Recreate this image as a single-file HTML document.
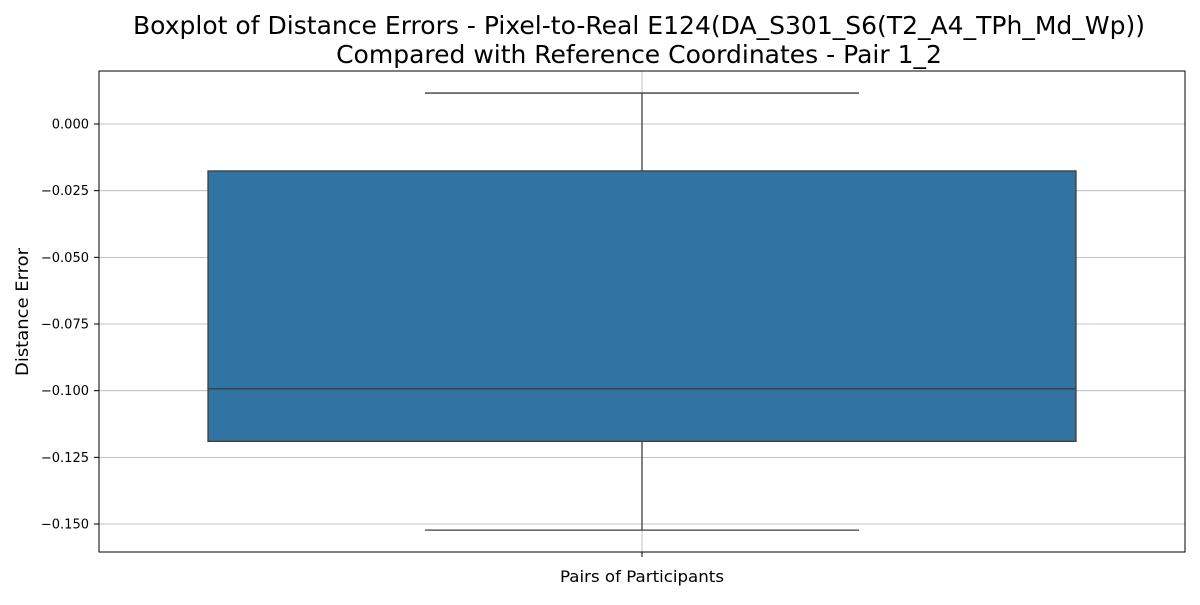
<!DOCTYPE html>
<html><head><meta charset="utf-8"><style>
body{margin:0;background:#fff;}
svg text{font-family:"DejaVu Sans","Liberation Sans",sans-serif;}
</style></head><body>
<svg id="chart" width="1200" height="600">
<rect width="1200" height="600" fill="#fff"/>
<text x="639" y="34" text-anchor="middle" font-size="25" textLength="1012" lengthAdjust="spacingAndGlyphs">Boxplot of Distance Errors - Pixel-to-Real E124(DA_S301_S6(T2_A4_TPh_Md_Wp))</text>
<text x="639" y="63" text-anchor="middle" font-size="25">Compared with Reference Coordinates - Pair 1_2</text>
<g id="grid"></g>
<g id="box"></g>
<rect x="99" y="71" width="1086" height="481" fill="none" stroke="#000" stroke-width="1"/>
<g id="yticks"></g>
<line x1="642" y1="552" x2="642" y2="557" stroke="#000"/>
<text x="642" y="582" text-anchor="middle" font-size="16" textLength="164" lengthAdjust="spacingAndGlyphs">Pairs of Participants</text>
<text transform="translate(28,312) rotate(-90)" text-anchor="middle" font-size="17" textLength="128" lengthAdjust="spacingAndGlyphs">Distance Error</text>
</svg>
<script>
const tickValues=[0,-0.025,-0.05,-0.075,-0.1,-0.125,-0.15];
const tickLabels=["0.000","−0.025","−0.050","−0.075","−0.100","−0.125","−0.150"];
const whiskerHigh=[0.0116];
const q3=[-0.0176];
const median=[-0.0993];
const q1=[-0.1190];
const whiskerLow=[-0.1523];
const ns="http://www.w3.org/2000/svg";
function y(v){return 124 - v/0.025*66.67;}
function mk(parent,tag,attrs){const e=document.createElementNS(ns,tag);for(const k in attrs)e.setAttribute(k,attrs[k]);document.getElementById(parent).appendChild(e);return e;}
let g=mk('grid','line',{x1:642,x2:642,y1:71,y2:552,stroke:'#b0b0b0','stroke-width':0.8});


tickValues.forEach((v,i)=>{
 const l=mk('grid','line',{x1:99,x2:1185,y1:y(v),y2:y(v),stroke:'#b0b0b0','stroke-width':0.8});
 
 
 const t=mk('yticks','line',{x1:94,x2:99,y1:y(v),y2:y(v),stroke:'#000'});
 
 
 const tx=mk('yticks','text',{x:89,y:y(v)+4.5,'text-anchor':'end','font-size':13});
 tx.textContent=tickLabels[i];
 
 
});
const c='#3f3f3f';
let w1=mk('box','line',{x1:642,x2:642,y1:y(q3[0]),y2:y(whiskerHigh[0]),stroke:c,'stroke-width':1.3});


let w2=mk('box','line',{x1:642,x2:642,y1:y(q1[0]),y2:y(whiskerLow[0]),stroke:c,'stroke-width':1.3});


let c1=mk('box','line',{x1:425,x2:859,y1:y(whiskerHigh[0]),y2:y(whiskerHigh[0]),stroke:c,'stroke-width':1.3});


let c2=mk('box','line',{x1:425,x2:859,y1:y(whiskerLow[0]),y2:y(whiskerLow[0]),stroke:c,'stroke-width':1.3});


let b=mk('box','rect',{x:208,width:868,y:y(q3[0]),height:y(q1[0])-y(q3[0]),fill:'#3274a1',stroke:c,'stroke-width':1.3});


let m=mk('box','line',{x1:208,x2:1076,y1:y(median[0]),y2:y(median[0]),stroke:c,'stroke-width':1.3});


</script>
</body></html>
